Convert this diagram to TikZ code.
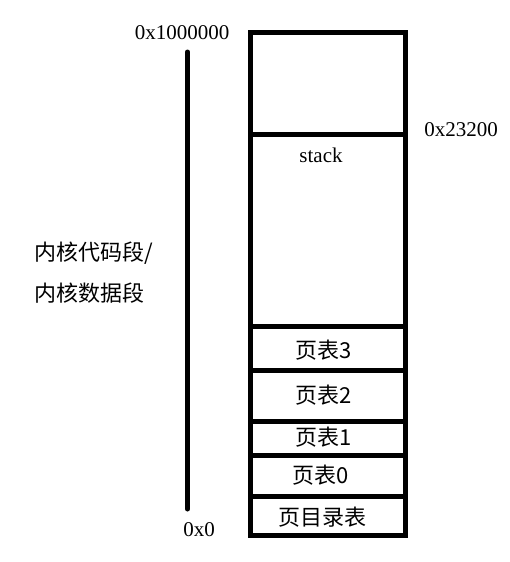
\documentclass[tikz,border=0pt]{standalone}
\usepackage{fontspec}
\setmainfont{Liberation Serif}
\newfontfamily\cjk{Noto Sans CJK SC}
\begin{document}
\begin{tikzpicture}[x=1pt,y=-1pt,
  seg/.style={draw=black,line width=5pt,minimum width=155pt,inner sep=0pt,anchor=north,outer sep=0pt},
  lat/.style={font=\fontsize{21}{25}\selectfont,inner sep=0pt},
  zh/.style={font=\cjk\fontsize{22}{26}\selectfont,inner sep=0pt}]
\useasboundingbox (0,0) rectangle (510,562);
% segments (top y, height)
\node[seg,minimum height=102pt] (top) at (327.5,32) {};
\node[seg,minimum height=192pt] (stk) at (327.5,134) {};
\node[seg,minimum height=44pt] (p3) at (327.5,326) {};
\node[seg,minimum height=51pt] (p2) at (327.5,370) {};
\node[seg,minimum height=34pt] (p1) at (327.5,421) {};
\node[seg,minimum height=41pt] (p0) at (327.5,455) {};
\node[seg,minimum height=39pt] (pd) at (327.5,496) {};
% labels
\node[lat] (ls) at (321,155) {stack};
\node[zh] (l3) at (324,350) {页表3};
\node[zh] (l2) at (324,395) {页表2};
\node[zh] (l1) at (324,437) {页表1};
\node[zh] (l0) at (321,475) {页表0};
\node[zh] (ld) at (322,517) {页目录表};
\node[lat] (atop) at (182,33) {0x1000000};
\node[lat] (amid) at (461,130) {0x23200};
\node[lat] (abot) at (199,530) {0x0};
\node[zh,anchor=west] (k1) at (34,253) {内核代码段/};
\node[zh,anchor=west] (k2) at (34,293) {内核数据段};
% vertical range line
\coordinate (vt) at (187.5,52);
\coordinate (vb) at (187.5,509);
\draw[line width=5pt,line cap=round] (vt) -- (vb);
\end{tikzpicture}
\end{document}
